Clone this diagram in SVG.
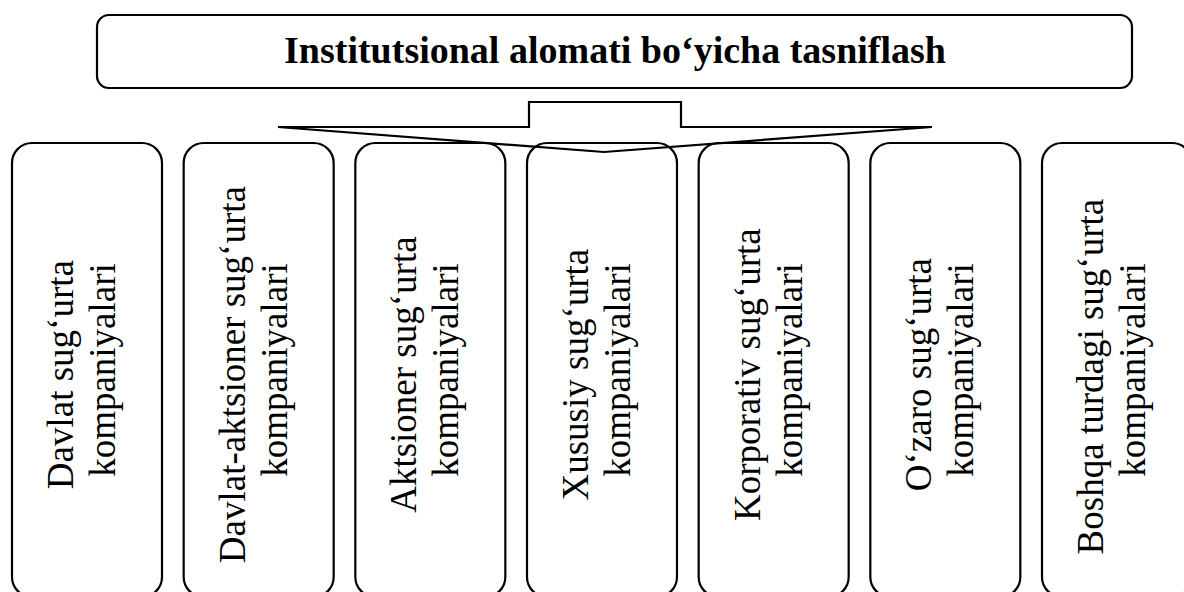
<svg xmlns="http://www.w3.org/2000/svg" width="1184" height="592" viewBox="0 0 1184 592">
  <style>
    .box { fill: #ffffff; stroke: #000000; stroke-width: 2.2; }
    .conn { fill: none; stroke: #000000; stroke-width: 2.2; stroke-linejoin: miter; }
    .title { font-family: "Liberation Serif", "Times New Roman", serif; font-weight: bold; font-size: 38px; fill: #000000; }
    .label { font-family: "Liberation Serif", "Times New Roman", serif; font-size: 37px; fill: #000000; }
  </style>
  <rect width="1184" height="592" fill="#ffffff"/>

  <!-- heading -->
  <g id="root">
    <rect class="box" x="97" y="15" width="1035" height="73" rx="12" ry="12"/>
    <text class="title" x="615" y="63" text-anchor="middle">Institutsional alomati bo‘yicha tasniflash</text>
  </g>

  <!-- categories: rounded boxes with vertical text -->
  <g id="n1">
    <rect class="box" x="12" y="143" width="150" height="454" rx="20" ry="20"/>
    <text class="label" transform="rotate(-90)" text-anchor="middle">
      <tspan x="-370" y="73">Davlat sug‘urta</tspan>
      <tspan x="-370" y="115">kompaniyalari</tspan>
    </text>
  </g>
  <g id="n2">
    <rect class="box" x="183.67" y="143" width="150" height="454" rx="20" ry="20"/>
    <text class="label" transform="rotate(-90)" text-anchor="middle">
      <tspan x="-370" y="244.67">Davlat-aktsioner sug‘urta</tspan>
      <tspan x="-370" y="286.67">kompaniyalari</tspan>
    </text>
  </g>
  <g id="n3">
    <rect class="box" x="355.33" y="143" width="150" height="454" rx="20" ry="20"/>
    <text class="label" transform="rotate(-90)" text-anchor="middle">
      <tspan x="-370" y="416.33">Aktsioner sug‘urta</tspan>
      <tspan x="-370" y="458.33">kompaniyalari</tspan>
    </text>
  </g>
  <g id="n4">
    <rect class="box" x="527" y="143" width="150" height="454" rx="20" ry="20"/>
    <text class="label" transform="rotate(-90)" text-anchor="middle">
      <tspan x="-370" y="588">Xususiy sug‘urta</tspan>
      <tspan x="-370" y="630">kompaniyalari</tspan>
    </text>
  </g>
  <g id="n5">
    <rect class="box" x="698.67" y="143" width="150" height="454" rx="20" ry="20"/>
    <text class="label" transform="rotate(-90)" text-anchor="middle">
      <tspan x="-370" y="759.67">Korporativ sug‘urta</tspan>
      <tspan x="-370" y="801.67">kompaniyalari</tspan>
    </text>
  </g>
  <g id="n6">
    <rect class="box" x="870.33" y="143" width="150" height="454" rx="20" ry="20"/>
    <text class="label" transform="rotate(-90)" text-anchor="middle">
      <tspan x="-370" y="931.33">O‘zaro sug‘urta</tspan>
      <tspan x="-370" y="973.33">kompaniyalari</tspan>
    </text>
  </g>
  <g id="n7">
    <rect class="box" x="1042" y="143" width="150" height="454" rx="20" ry="20"/>
    <text class="label" transform="rotate(-90)" text-anchor="middle">
      <tspan x="-372" y="1103">Boshqa turdagi sug‘urta</tspan>
      <tspan x="-370" y="1145">kompaniyalari</tspan>
    </text>
  </g>

  <!-- wide arrow from heading down to the categories, drawn over the box tops -->
  <g id="connectors">
    <path class="conn" d="M278,127 H529 V102 H681 V127 H932 L604,152 Z"/>
  </g>
</svg>
